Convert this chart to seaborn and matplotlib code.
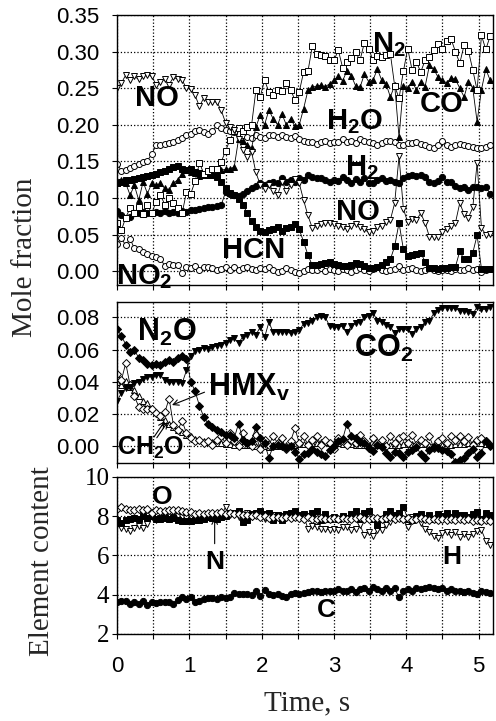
import numpy as np
import matplotlib
matplotlib.use("Agg")
import matplotlib.pyplot as plt
import seaborn as sns

# sampling time, s (one FTIR spectrum every 0.06 s)
time = np.round(np.arange(87) * 0.06, 2)

# ---- mole fractions, upper panel ----
no = [0.250, 0.257, 0.268, 0.261, 0.266, 0.262, 0.266, 0.268, 0.266, 0.255,
      0.259, 0.262, 0.255, 0.265, 0.262, 0.261, 0.250, 0.249, 0.240, 0.225,
      0.237, 0.231, 0.231, 0.231, 0.220, 0.203, 0.197, 0.193, 0.180, 0.165,
      0.156, 0.163, 0.135, 0.118, 0.112, 0.118, 0.110, 0.104, 0.122, 0.110,
      0.118, 0.126, 0.120, 0.097, 0.076, 0.059, 0.061, 0.064, 0.066, 0.066,
      0.064, 0.061, 0.060, 0.057, 0.061, 0.065, 0.060, 0.057, 0.053, 0.055,
      0.060, 0.062, 0.067, 0.070, 0.093, 0.157, 0.085, 0.067, 0.071, 0.070,
      0.079, 0.066, 0.047, 0.047, 0.047, 0.053, 0.057, 0.062, 0.066, 0.093,
      0.078, 0.073, 0.087, 0.148, 0.059, 0.050, 0.051]
n2 = [0.066, 0.056, 0.073, 0.086, 0.079, 0.087, 0.078, 0.090, 0.079, 0.095,
      0.104, 0.091, 0.100, 0.093, 0.086, 0.079, 0.108, 0.106, 0.123, 0.148,
      0.133, 0.137, 0.140, 0.140, 0.149, 0.164, 0.179, 0.192, 0.195, 0.192,
      0.197, 0.199, 0.247, 0.238, 0.261, 0.245, 0.240, 0.248, 0.246, 0.257,
      0.248, 0.234, 0.245, 0.272, 0.273, 0.307, 0.297, 0.295, 0.294, 0.288,
      0.288, 0.302, 0.278, 0.286, 0.291, 0.299, 0.288, 0.312, 0.304, 0.288,
      0.294, 0.292, 0.295, 0.297, 0.253, 0.236, 0.273, 0.304, 0.275, 0.286,
      0.272, 0.288, 0.293, 0.302, 0.311, 0.303, 0.315, 0.317, 0.300, 0.284,
      0.309, 0.301, 0.275, 0.247, 0.322, 0.303, 0.321]
co = [0.120, 0.124, 0.120, 0.104, 0.117, 0.097, 0.122, 0.106, 0.120, 0.117,
      0.120, 0.113, 0.111, 0.120, 0.125, 0.133, 0.138, 0.136, 0.134, 0.130,
      0.132, 0.135, 0.131, 0.133, 0.138, 0.139, 0.140, 0.142, 0.180, 0.178,
      0.173, 0.168, 0.197, 0.213, 0.200, 0.220, 0.208, 0.200, 0.215, 0.200,
      0.208, 0.198, 0.200, 0.222, 0.247, 0.251, 0.253, 0.254, 0.252, 0.256,
      0.261, 0.266, 0.260, 0.274, 0.267, 0.253, 0.251, 0.269, 0.259, 0.261,
      0.276, 0.261, 0.256, 0.238, 0.254, 0.183, 0.253, 0.250, 0.259, 0.248,
      0.258, 0.252, 0.281, 0.276, 0.265, 0.261, 0.257, 0.264, 0.262, 0.250,
      0.238, 0.259, 0.250, 0.204, 0.248, 0.276, 0.261]
h2o = [0.147, 0.137, 0.138, 0.141, 0.144, 0.147, 0.149, 0.151, 0.160, 0.172,
       0.172, 0.174, 0.175, 0.176, 0.179, 0.182, 0.186, 0.188, 0.192, 0.193,
       0.190, 0.187, 0.192, 0.199, 0.195, 0.193, 0.192, 0.190, 0.188, 0.186,
       0.183, 0.182, 0.186, 0.183, 0.182, 0.186, 0.186, 0.183, 0.186, 0.183,
       0.182, 0.184, 0.180, 0.178, 0.176, 0.177, 0.174, 0.176, 0.178, 0.175,
       0.177, 0.176, 0.180, 0.177, 0.178, 0.175, 0.180, 0.178, 0.177, 0.175,
       0.172, 0.175, 0.178, 0.178, 0.176, 0.173, 0.172, 0.175, 0.175, 0.176,
       0.174, 0.172, 0.170, 0.168, 0.173, 0.178, 0.172, 0.170, 0.172, 0.174,
       0.172, 0.171, 0.170, 0.168, 0.168, 0.169, 0.173]
h2 = [0.082, 0.076, 0.072, 0.074, 0.079, 0.080, 0.081, 0.079, 0.080, 0.081,
      0.080, 0.082, 0.080, 0.081, 0.080, 0.082, 0.081, 0.083, 0.084, 0.085,
      0.086, 0.087, 0.088, 0.089, 0.090, 0.108, 0.106, 0.104, 0.103, 0.106,
      0.110, 0.113, 0.116, 0.120, 0.118, 0.120, 0.122, 0.120, 0.127, 0.122,
      0.124, 0.122, 0.127, 0.124, 0.131, 0.129, 0.127, 0.127, 0.124, 0.122,
      0.124, 0.123, 0.129, 0.125, 0.120, 0.126, 0.122, 0.127, 0.120, 0.121,
      0.124, 0.127, 0.123, 0.124, 0.122, 0.120, 0.127, 0.130, 0.131, 0.130,
      0.131, 0.129, 0.122, 0.120, 0.123, 0.129, 0.122, 0.122, 0.116, 0.114,
      0.115, 0.111, 0.115, 0.115, 0.114, 0.115, 0.106]
hcn = [0.120, 0.122, 0.124, 0.124, 0.126, 0.127, 0.129, 0.130, 0.131, 0.133,
       0.135, 0.137, 0.139, 0.142, 0.143, 0.140, 0.138, 0.140, 0.136, 0.134,
       0.133, 0.132, 0.131, 0.128, 0.122, 0.113, 0.107, 0.104, 0.098, 0.090,
       0.080, 0.068, 0.060, 0.055, 0.054, 0.056, 0.057, 0.060, 0.055, 0.059,
       0.060, 0.064, 0.057, 0.040, 0.022, 0.008, 0.009, 0.010, 0.011, 0.013,
       0.010, 0.008, 0.007, 0.007, 0.009, 0.011, 0.010, 0.007, 0.004, 0.004,
       0.006, 0.009, 0.013, 0.016, 0.034, 0.066, 0.030, 0.021, 0.022, 0.023,
       0.025, 0.013, 0.004, 0.004, 0.003, 0.004, 0.004, 0.005, 0.006, 0.027,
       0.016, 0.016, 0.025, 0.049, 0.003, 0.003, 0.003]
no2 = [0.037, 0.045, 0.035, 0.044, 0.031, 0.030, 0.026, 0.024, 0.021, 0.019,
       0.017, 0.007, 0.010, 0.009, 0.008, -0.002, 0.006, 0.004, 0.007, 0.002,
       0.005, 0.006, 0.004, 0.001, 0.003, 0.005, 0.002, 0.006, 0.001, 0.004,
       0.006, 0.003, 0.001, 0.004, 0.003, 0.005, 0.002, -0.001, 0.000, 0.004,
       0.002, -0.001, -0.002, 0.000, 0.003, 0.002, 0.001, 0.004, 0.000, 0.003,
       0.002, 0.000, 0.003, 0.001, -0.001, 0.002, 0.004, 0.001, 0.000, 0.003,
       0.005, 0.002, 0.000, 0.001, 0.003, 0.007, 0.001, 0.003, 0.004, 0.002,
       0.000, 0.002, 0.004, 0.002, 0.000, 0.002, 0.001, 0.000, 0.003, 0.001,
       0.002, 0.004, 0.001, 0.003, -0.001, 0.002, 0.003]

# ---- mole fractions, middle panel ----
n2o = [0.0727, 0.0685, 0.0631, 0.0582, 0.0596, 0.0549, 0.0534, 0.0513, 0.0503, 0.0507,
       0.0503, 0.0524, 0.0534, 0.0524, 0.0549, 0.0561, 0.054, 0.040, 0.034, 0.025,
       0.018, 0.014, 0.012, 0.010, 0.009, 0.007, 0.0068, 0.0048, 0.014, 0.004,
       0.0017, 0.003, 0.012, 0.005, 0.0017, -0.0072, 0.000, 0.001, 0.000, -0.001,
       0.0002, -0.0035, -0.0077, -0.005, -0.0045, -0.0015, -0.0035, -0.005, -0.006, -0.0025,
       0.000, 0.003, 0.0043, 0.014, 0.0064, 0.0048, 0.0027, 0.0017, -0.001, -0.003,
       0.001, -0.0004, -0.004, -0.0066, -0.0035, -0.0045, -0.0066, -0.0035, -0.0025, -0.0004,
       -0.005, -0.0072, -0.0025, -0.0004, -0.001, -0.0025, -0.003, -0.005, -0.0097, -0.0087,
       -0.0076, -0.0045, -0.0015, -0.007, -0.004, 0.003, 0.000]
co2 = [0.028, 0.033, 0.036, 0.037, 0.039, 0.040, 0.042, 0.043, 0.043, 0.044,
       0.044, 0.041, 0.040, 0.040, 0.040, 0.039, 0.047, 0.056, 0.059, 0.060,
       0.061, 0.0605, 0.0617, 0.062, 0.0627, 0.0642, 0.066, 0.067, 0.064, 0.068,
       0.069, 0.071, 0.069, 0.074, 0.0675, 0.077, 0.0706, 0.071, 0.071, 0.071,
       0.070, 0.071, 0.072, 0.076, 0.0766, 0.078, 0.080, 0.0807, 0.080, 0.0747,
       0.0737, 0.074, 0.0745, 0.0706, 0.0745, 0.0762, 0.077, 0.080, 0.081, 0.0828,
       0.078, 0.077, 0.075, 0.074, 0.0704, 0.0725, 0.0725, 0.0725, 0.0696, 0.073,
       0.074, 0.077, 0.078, 0.0824, 0.0845, 0.0855, 0.086, 0.086, 0.0855, 0.084,
       0.084, 0.083, 0.082, 0.0865, 0.085, 0.085, 0.0865]
hmx = [0.045, 0.041, 0.0515, 0.038, 0.031, 0.0245, 0.023, 0.023, 0.023, 0.0205,
       0.019, 0.021, 0.0295, 0.013, 0.010, 0.0157, 0.008, 0.005, 0.003, 0.004,
       0.002, 0.003, 0.001, 0.004, 0.006, 0.002, 0.008, 0.003, 0.000, 0.008,
       0.002, 0.000, 0.007, -0.002, 0.004, 0.001, 0.006, 0.002, 0.005, -0.002,
       0.003, 0.011, 0.002, 0.006, 0.001, 0.004, 0.006, 0.001, 0.004, 0.002,
       -0.002, 0.005, 0.003, 0.001, 0.004, 0.002, 0.007, 0.003, -0.001, 0.005,
       0.002, 0.004, 0.000, 0.006, 0.002, 0.005, 0.006, 0.002, 0.007, 0.001,
       0.004, 0.002, 0.006, -0.001, 0.003, 0.005, 0.002, 0.006, 0.004, 0.006,
       0.003, 0.0055, 0.001, 0.004, 0.005, 0.003, 0.001]
ch2o = [0.040, 0.038, 0.0405, 0.037, 0.035, 0.031, 0.028, 0.0265, 0.0234, 0.0213,
        0.018, 0.016, 0.014, 0.012, 0.010, 0.0085, 0.007, 0.006, 0.0045, 0.0035,
        0.003, 0.0025, 0.0025, 0.002, 0.002, 0.0015, 0.0015, 0.001, 0.001, 0.0008,
        0.0005, 0.0005, 0.000, 0.000, 0.000, -0.0003, 0.000, 0.000, 0.0003, 0.0005,
        0.0005, 0.001, 0.0012, 0.0015, 0.0015, 0.002, 0.0022, 0.0025, 0.0025, 0.0022,
        0.002, 0.002, 0.0015, 0.0015, 0.0012, 0.001, 0.001, 0.0008, 0.0008, 0.0005,
        0.0005, 0.0008, 0.0008, 0.001, 0.001, 0.001, 0.0012, 0.0012, 0.0015, 0.0015,
        0.0015, 0.0012, 0.001, 0.0008, 0.0005, 0.0005, 0.0008, 0.001, 0.0012, 0.0015,
        0.0015, 0.0018, 0.002, 0.002, 0.0018, 0.0015, 0.0012]

# ---- element content, lower panel ----
el_o = [8.38, 8.45, 8.36, 8.33, 8.31, 8.36, 8.31, 8.35, 8.14, 8.30,
        8.28, 8.24, 8.33, 8.32, 8.30, 8.28, 8.22, 8.22, 8.12, 8.14,
        8.12, 8.14, 8.18, 8.15, 8.20, 8.10, 8.18, 8.10, 8.12, 8.05,
        8.08, 8.02, 8.05, 7.95, 8.00, 7.90, 7.95, 7.98, 7.92, 7.95,
        7.90, 7.98, 7.92, 7.88, 7.95, 7.88, 7.85, 7.90, 7.88, 7.85,
        7.90, 7.85, 7.92, 7.88, 7.85, 7.90, 7.95, 7.88, 7.85, 7.90,
        7.92, 7.85, 7.90, 7.95, 7.88, 7.92, 7.85, 7.90, 7.82, 7.88,
        7.92, 7.85, 7.80, 7.85, 7.82, 7.88, 7.80, 7.85, 7.82, 7.88,
        7.80, 7.85, 7.78, 7.82, 7.75, 7.80, 7.78]
el_n = [7.80, 7.66, 7.83, 7.88, 7.93, 7.85, 8.00, 7.93, 8.00, 7.88,
        7.88, 7.90, 7.85, 7.92, 7.83, 7.78, 7.73, 7.78, 7.80, 7.83,
        7.88, 7.95, 7.93, 7.88, 7.95, 8.02, 8.17, 8.14, 8.24, 7.71,
        7.80, 8.10, 8.14, 8.24, 8.10, 8.14, 7.80, 8.05, 7.83, 8.10,
        8.17, 8.27, 8.05, 8.10, 8.00, 8.17, 8.27, 7.83, 8.10, 7.88,
        7.95, 7.88, 8.00, 7.93, 8.10, 8.24, 7.85, 8.14, 8.24, 7.88,
        7.54, 7.88, 8.10, 8.24, 8.05, 8.17, 8.47, 7.88, 7.83, 8.00,
        8.10, 7.93, 8.05, 7.88, 8.10, 8.00, 8.14, 7.95, 8.17, 8.05,
        8.07, 7.95, 8.10, 8.20, 7.88, 8.14, 8.05]
el_h = [7.62, 7.42, 7.37, 7.25, 7.42, 7.50, 7.42, 7.58, 7.97, 7.83,
        7.92, 7.95, 7.88, 7.97, 8.00, 7.95, 7.92, 7.97, 8.02, 7.95,
        8.00, 7.97, 7.95, 7.98, 8.02, 8.47, 8.05, 8.10, 7.97, 8.05,
        8.14, 7.95, 8.10, 8.05, 7.88, 8.00, 8.05, 7.97, 8.02, 7.92,
        8.05, 8.00, 7.95, 8.02, 7.37, 7.49, 7.46, 7.37, 7.37, 7.29,
        7.37, 7.29, 7.46, 7.46, 7.29, 7.37, 7.54, 7.03, 7.20, 6.98,
        7.29, 7.32, 7.54, 7.71, 7.83, 8.00, 7.80, 7.46, 7.97, 7.88,
        7.66, 7.37, 7.20, 6.98, 6.91, 7.12, 7.20, 7.03, 7.20, 6.95,
        7.08, 6.95, 7.08, 7.25, 7.29, 6.75, 6.55]
el_c = [3.64, 3.69, 3.70, 3.52, 3.64, 3.52, 3.68, 3.47, 3.64, 3.60,
        3.63, 3.63, 3.64, 3.52, 3.73, 3.86, 3.76, 3.86, 3.64, 3.70,
        3.76, 3.81, 3.81, 3.76, 3.86, 3.81, 3.86, 4.08, 4.05, 4.03,
        4.03, 3.98, 4.20, 3.93, 4.24, 4.05, 3.98, 4.03, 3.93, 3.86,
        4.05, 4.08, 4.05, 4.08, 4.12, 4.17, 4.20, 4.12, 4.20, 4.17,
        4.20, 4.27, 4.17, 4.20, 4.27, 4.12, 4.27, 4.32, 4.20, 4.37,
        4.27, 4.20, 4.32, 4.20, 4.32, 3.86, 4.20, 4.27, 4.17, 4.32,
        4.27, 4.32, 4.37, 4.32, 4.27, 4.32, 4.20, 4.27, 4.17, 4.20,
        4.12, 4.17, 4.08, 4.05, 4.20, 4.15, 4.10]

sns.set_style("ticks")
plt.rcParams['font.family'] = ['Liberation Sans', 'DejaVu Sans']
plt.rcParams['mathtext.fontset'] = 'custom'
plt.rcParams['mathtext.rm'] = 'Liberation Sans'
plt.rcParams['mathtext.bf'] = 'Liberation Sans:bold'
plt.rcParams['mathtext.it'] = 'Liberation Sans:italic'

fig = plt.figure(figsize=(4.96, 7.21), dpi=100)
ax1 = fig.add_axes([0.236, 0.6047, 0.758, 0.3745])
ax2 = fig.add_axes([0.236, 0.3578, 0.758, 0.2233])
ax3 = fig.add_axes([0.236, 0.1207, 0.758, 0.2178])


def draw(ax, y, marker, filled, ms=4.0):
    sns.lineplot(x=time, y=y, ax=ax, color='black', linewidth=0.6,
                 marker=marker, markersize=ms,
                 markerfacecolor='black' if filled else 'white',
                 markeredgecolor='black', markeredgewidth=0.7,
                 estimator=None, sort=False)


# upper panel
draw(ax1, no2, 'o', False, 4.3)
draw(ax1, h2o, 'o', False, 4.3)
draw(ax1, hcn, 's', True, 4.0)
draw(ax1, h2, 'o', True, 4.5)
draw(ax1, co, '^', True, 4.6)
draw(ax1, n2, 's', False, 4.3)
draw(ax1, no, 'v', False, 4.8)

# middle panel
draw(ax2, ch2o, '^', False, 4.3)
draw(ax2, hmx, 'D', False, 3.8)
draw(ax2, n2o, 'D', True, 3.8)
draw(ax2, co2, 'v', True, 4.6)

# lower panel
draw(ax3, el_c, 'o', True, 4.5)
draw(ax3, el_h, 'v', False, 4.6)
draw(ax3, el_n, 's', True, 4.3)
draw(ax3, el_o, 'D', False, 3.7)

xt = np.arange(0, 5.01, 0.5)
for ax in (ax1, ax2, ax3):
    ax.set_xlim(0, 5.2)
    ax.set_xticks(xt)
    ax.set_xlabel('')
    ax.set_ylabel('')
    ax.grid(True, linestyle=':', color='black', linewidth=0.9)
    ax.set_axisbelow(True)
    for s in ax.spines.values():
        s.set_visible(True)
        s.set_color('black')
        s.set_linewidth(1.0)
    ax.tick_params(direction='out', length=3.5, width=0.8, colors='black',
                   labelsize=16, pad=9)

ax1.set_ylim(-0.019, 0.35)
ax1.set_yticks(np.arange(0, 0.351, 0.05))
ax1.set_yticklabels([f'{v:.2f}' for v in np.arange(0, 0.351, 0.05)])
ax2.set_ylim(-0.0105, 0.0895)
ax2.set_yticks(np.arange(0, 0.081, 0.02))
ax2.set_yticklabels([f'{v:.2f}' for v in np.arange(0, 0.081, 0.02)])
ax1.set_xticklabels([])
ax2.set_xticklabels([])

ax3.set_ylim(2, 10)
ax3.set_yticks([2, 4, 6, 8, 10])
ax3.set_yticklabels(['2', '4', '6', '8', '10'], family='Liberation Serif', size=18)
ax3.tick_params(axis='y', pad=2)
ax3.tick_params(axis='x', pad=12)
ax3.set_xticklabels(['0', '', '1', '', '2', '', '3', '', '4', '', '5'])

lab = dict(ha='center', va='center', fontweight='bold', color='black')
ax1.text(0.55, 0.236, 'NO', size=21, **lab)
ax1.text(3.76, 0.309, r'$\mathbf{N_2}$', size=21, **lab)
ax1.text(4.49, 0.229, 'CO', size=21, **lab)
ax1.text(3.29, 0.204, r'$\mathbf{H_2O}$', size=21, **lab)
ax1.text(3.38, 0.142, r'$\mathbf{H_2}$', size=21, **lab)
ax1.text(3.33, 0.081, 'NO', size=21, **lab)
ax1.text(1.89, 0.029, 'HCN', size=21, **lab)
ax1.text(0.37, -0.007, r'$\mathbf{NO_2}$', size=21, **lab)

ax2.text(0.69, 0.0708, r'$\mathbf{N_2O}$', size=22, **lab)
ax2.text(3.69, 0.0609, r'$\mathbf{CO_2}$', size=22, **lab)
ax2.text(1.82, 0.0366, r'$\mathbf{HMX_v}$', size=22, **lab)
ax2.text(0.47, -0.0012, r'$\mathbf{CH_2O}$', size=18, **lab)
arw = dict(arrowstyle='->', color='black', lw=0.8, shrinkA=0, shrinkB=0)
ax2.annotate('', xy=(0.76, 0.0255), xytext=(1.21, 0.0335), arrowprops=arw)
ax2.annotate('', xy=(0.66, 0.0155), xytext=(0.51, 0.0056), arrowprops=arw)
ax2.annotate('', xy=(0.70, 0.0150), xytext=(0.55, 0.0052), arrowprops=arw)

ax3.text(0.62, 8.96, 'O', size=19, **lab)
ax3.text(1.35, 5.66, 'N', size=19, **lab)
ax3.text(4.63, 5.91, 'H', size=19, **lab)
ax3.text(2.90, 3.22, 'C', size=19, **lab)
ax3.annotate('', xy=(1.35, 7.93), xytext=(1.35, 6.6), arrowprops=arw)

serif = ['Liberation Serif', 'DejaVu Serif']
fig.text(25 / 496, 1 - 257 / 721, 'Mole fraction', rotation=90, family=serif,
         size=21, ha='center', va='center')
fig.text(42 / 496, 1 - 561 / 721, 'Element content', rotation=90, family=serif,
         size=21, ha='center', va='center')
fig.text(307 / 496, 1 - 703 / 721, 'Time, s', family=serif, size=21,
         ha='center', va='center')

fig.savefig('out.png', dpi=100)
